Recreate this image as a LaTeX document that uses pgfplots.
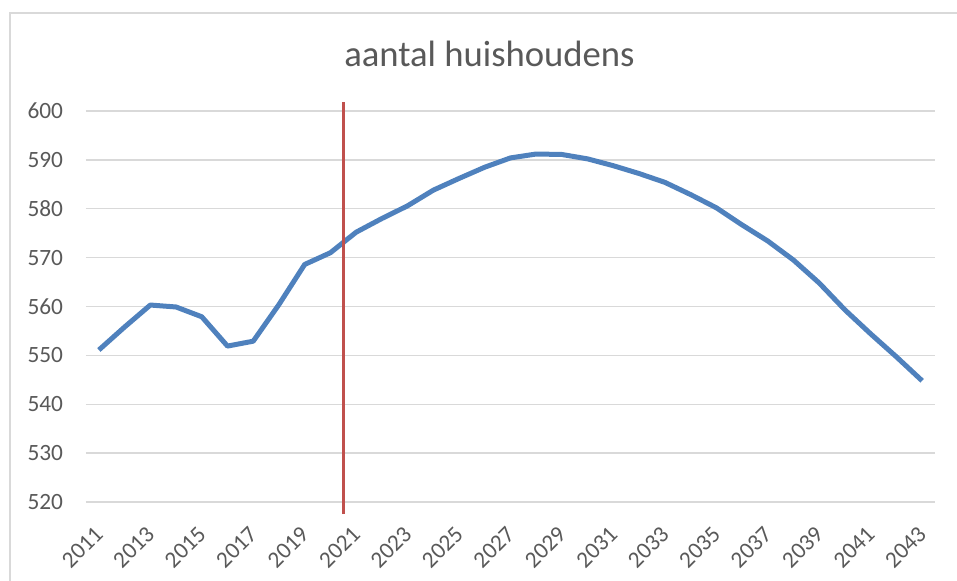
\documentclass[border=0pt]{standalone}
\usepackage{pgfplots}
\pgfplotsset{compat=1.18}
\usepackage{fontspec}
\setmainfont{Carlito}
\definecolor{lineblue}{HTML}{4F81BD}
\definecolor{linered}{HTML}{C0504D}
\definecolor{gridgray}{HTML}{D9D9D9}
\definecolor{txtgray}{HTML}{595959}
\begin{document}
\begin{tikzpicture}
\path[use as bounding box] (-64.5pt,-59.25pt) rectangle (653.25pt,376.5pt);
\draw[gridgray, line width=1.1pt] (-57pt,-59.25pt) -- (-57pt,366.75pt) -- (653.25pt,366.75pt);
\node[anchor=base, text=txtgray, font=\fontsize{27.5}{32}\selectfont, inner sep=0pt] at (302.6pt,326.25pt) {aantal huishoudens};
\begin{axis}[
  at={(0,0)}, anchor=south west,
  scale only axis,
  width=636.75pt, height=293.25pt,
  xmin=2010.5, xmax=2043.5,
  ymin=520, ymax=600,
  ytick={520,530,...,600},
  xtick={2011,2013,...,2043},
  /pgf/number format/set thousands separator={},
  /pgf/number format/assume math mode=true,
  axis line style={draw=none},
  major tick length=0pt,
  ymajorgrids,
  grid style={gridgray, line width=1.1pt},
  tick label style={text=txtgray, font=\fontsize{17.5}{21}\selectfont, inner sep=0pt},
  yticklabel style={anchor=east, xshift=-17pt},
  xticklabel style={yshift=-17pt, xshift=-4pt, rotate=45, anchor=north east},
  clip=false,
]
\addplot[lineblue, line width=3.75pt, line join=round] coordinates {
(2011,551.1) (2012,555.8) (2013,560.3) (2014,559.9) (2015,557.9) (2016,551.9)
(2017,552.9) (2018,560.4) (2019,568.6) (2020,571.0) (2021,575.2) (2022,578.0)
(2023,580.6) (2024,583.8) (2025,586.2) (2026,588.5) (2027,590.4) (2028,591.2)
(2029,591.1) (2030,590.2) (2031,588.8) (2032,587.2) (2033,585.4) (2034,582.9)
(2035,580.2) (2036,576.7) (2037,573.4) (2038,569.5) (2039,564.8) (2040,559.3)
(2041,554.4) (2042,549.7) (2043,544.8)
};
\addplot[linered, line width=2.25pt] coordinates {(2020.5,517.5) (2020.5,601.8)};
\end{axis}
\end{tikzpicture}
\end{document}
